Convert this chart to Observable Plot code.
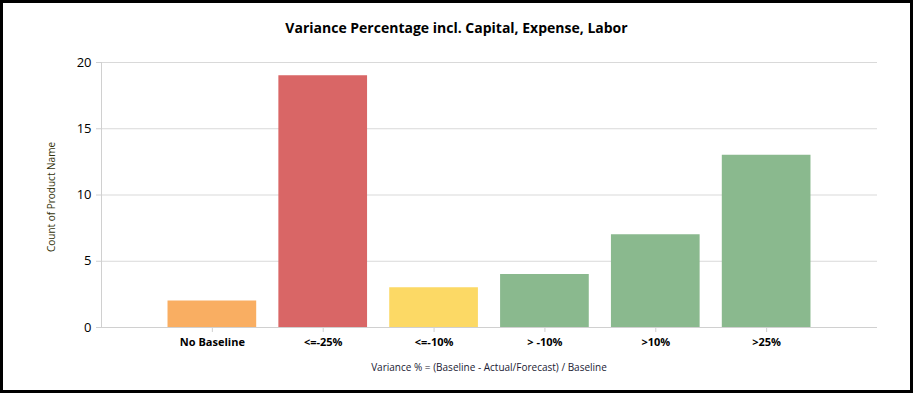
<!DOCTYPE html>
<html>
<head>
<meta charset="utf-8">
<script src="https://cdn.jsdelivr.net/npm/d3@7"></script>
<script src="https://cdn.jsdelivr.net/npm/@observablehq/plot@0.6"></script>
<style>
  html, body { margin: 0; padding: 0; background: #fff; }
  #wrap { position: relative; width: 913px; height: 393px; overflow: hidden; background: #fff; font-family: "Open Sans", sans-serif; }
  #border { position: absolute; left: 0; top: 0; width: 913px; height: 393px; box-sizing: border-box; border: 3px solid #000; pointer-events: none; }
  #title { position: absolute; left: 0; width: 913px; top: 18px; text-align: center; font-size: 14px; font-weight: bold; color: #000; }
  #ylab { position: absolute; left: 51px; top: 197px; transform: translate(-50%, -50%) rotate(-90deg); white-space: nowrap; font-size: 10px; color: #33330a; }
  #xlab { position: absolute; left: 489px; top: 367px; transform: translate(-50%, -50%); white-space: nowrap; font-size: 10px; color: #1a1a33; }
  #chart { position: absolute; left: 0; top: 0; }
</style>
</head>
<body>
<div id="wrap">
  <div id="chart"></div>
  <div id="title">Variance Percentage incl. Capital, Expense, Labor</div>
  <div id="ylab">Count of Product Name</div>
  <div id="xlab">Variance % = (Baseline - Actual/Forecast) / Baseline</div>
  <div id="border"></div>
</div>
<script>
const categories = ["No Baseline", "<=-25%", "<=-10%", "> -10%", ">10%", ">25%"];
const counts = [2, 19, 3, 4, 7, 13];
const colors = ["#F9AE62", "#D96666", "#FCD965", "#8AB98E", "#8AB98E", "#8AB98E"];
const yTicks = [0, 5, 10, 15, 20];

const data = categories.map((c, i) => ({cat: c, count: counts[i], color: colors[i]}));

const chart = Plot.plot({
  width: 913,
  height: 393,
  marginLeft: 101,
  marginRight: 36,
  marginTop: 62,
  marginBottom: 66,
  style: {fontFamily: "Open Sans, sans-serif", background: "transparent"},
  x: {domain: categories, paddingInner: 0.2, paddingOuter: 0.6, round: false, label: null},
  y: {domain: [0, 20], label: null},
  marks: [
    Plot.gridY(yTicks, {stroke: "#d9d9d9", strokeOpacity: 1}),
    Plot.barY(data, {x: "cat", y: "count", fill: "color"}),
    Plot.ruleY([0], {stroke: "#d0d0d0"}),
    Plot.frame({anchor: "left", stroke: "#d0d0d0"}),
    Plot.axisY({ticks: yTicks, tickSize: 5, tickPadding: 5, stroke: "#d0d0d0", fontSize: 13, fill: "#000", label: null}),
    Plot.axisX({tickSize: 5, tickPadding: 6, stroke: "#d0d0d0", fontSize: 11, fontWeight: "bold", fill: "#000", label: null})
  ]
});
document.getElementById("chart").appendChild(chart);
</script>
</body>
</html>
